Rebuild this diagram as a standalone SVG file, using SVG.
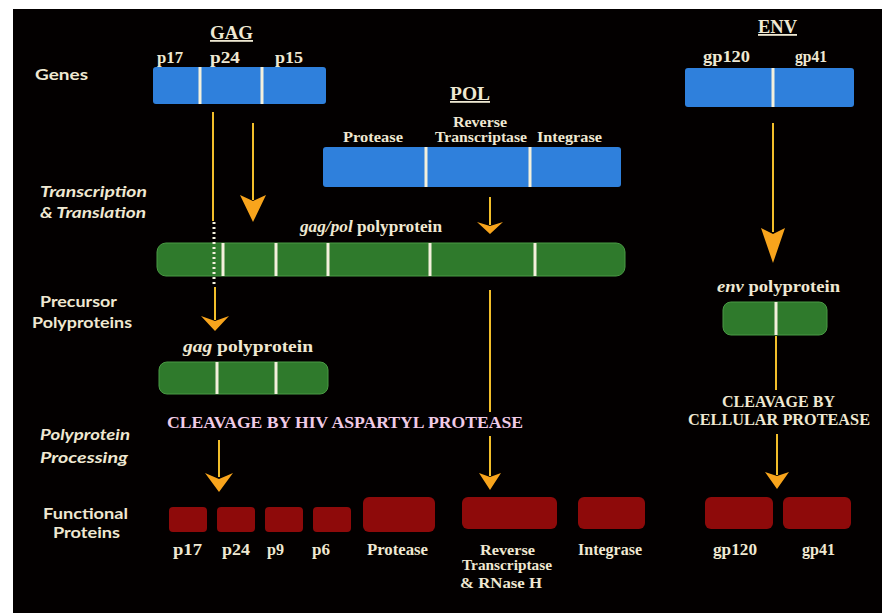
<svg xmlns="http://www.w3.org/2000/svg" width="882" height="613" viewBox="0 0 882 613">
<style>
.bg{fill:#030000}
.blue{fill:#2f80dc}
.green{fill:#2f7a2c;stroke:#4a9a44;stroke-width:1}
.red{fill:#8e0a0a}
.div{stroke:#f4f0dc;stroke-width:3}
.side{font-family:Lato,"Open Sans",sans-serif;font-weight:bold;font-size:16px;fill:#efe8d2}
.sidei{font-family:Lato,"Open Sans",sans-serif;font-weight:bold;font-style:italic;font-size:16px;fill:#efe8d2}
.lab{font-family:"Liberation Serif",serif;font-weight:bold;font-size:16px;fill:#efe8d2}
.sm{font-size:14px}
.head{font-family:"Liberation Serif",serif;font-weight:bold;font-size:18px;fill:#efe8d2;text-decoration:underline}
.pink{font-family:"Liberation Serif",serif;font-weight:bold;font-size:16px;fill:#f0cbe6}
.ln{stroke:#f2be2a;stroke-width:2;fill:none}
.ah{fill:#f8a41c}
.dots{stroke:#f4f0dc;stroke-width:3;stroke-dasharray:2 3}
</style>
<rect x="0" y="0" width="882" height="613" fill="#ffffff"/>
<rect class="bg" x="13" y="9" width="869" height="604"/>

<g id="side-labels">
<text class="side" x="35" y="80" textLength="53" lengthAdjust="spacingAndGlyphs">Genes</text>
<text class="sidei" x="40" y="197" textLength="107" lengthAdjust="spacingAndGlyphs">Transcription</text>
<text class="sidei" x="40" y="218" textLength="106" lengthAdjust="spacingAndGlyphs">&amp; Translation</text>
<text class="side" x="40" y="307" textLength="77" lengthAdjust="spacingAndGlyphs">Precursor</text>
<text class="side" x="32" y="328" textLength="100" lengthAdjust="spacingAndGlyphs">Polyproteins</text>
<text class="sidei" x="40" y="440" textLength="90" lengthAdjust="spacingAndGlyphs">Polyprotein</text>
<text class="sidei" x="40" y="463" textLength="88" lengthAdjust="spacingAndGlyphs">Processing</text>
<text class="side" x="43" y="519" textLength="85" lengthAdjust="spacingAndGlyphs">Functional</text>
<text class="side" x="53" y="538" textLength="67" lengthAdjust="spacingAndGlyphs">Proteins</text>
</g>

<g id="gag-gene">
<text class="head" x="210" y="39" textLength="43" lengthAdjust="spacingAndGlyphs">GAG</text>
<text class="lab" x="157" y="63" textLength="26" lengthAdjust="spacingAndGlyphs">p17</text>
<text class="lab" x="210" y="63" textLength="30" lengthAdjust="spacingAndGlyphs">p24</text>
<text class="lab" x="275" y="63" textLength="28" lengthAdjust="spacingAndGlyphs">p15</text>
<rect class="blue" x="153" y="67" width="173" height="37" rx="3"/>
<line class="div" x1="200" y1="67" x2="200" y2="104"/>
<line class="div" x1="262" y1="67" x2="262" y2="104"/>
</g>

<g id="pol-gene">
<text class="head" x="450" y="100" textLength="40" lengthAdjust="spacingAndGlyphs">POL</text>
<text class="lab sm" x="480" y="127" text-anchor="middle" textLength="54" lengthAdjust="spacingAndGlyphs">Reverse</text>
<text class="lab sm" x="435" y="142" textLength="92" lengthAdjust="spacingAndGlyphs">Transcriptase</text>
<text class="lab sm" x="343" y="142" textLength="60" lengthAdjust="spacingAndGlyphs">Protease</text>
<text class="lab sm" x="537" y="142" textLength="65" lengthAdjust="spacingAndGlyphs">Integrase</text>
<rect class="blue" x="323" y="147" width="298" height="40" rx="3"/>
<line class="div" x1="426" y1="147" x2="426" y2="187"/>
<line class="div" x1="530" y1="147" x2="530" y2="187"/>
</g>

<g id="env-gene">
<text class="head" x="758" y="33" textLength="39" lengthAdjust="spacingAndGlyphs">ENV</text>
<text class="lab" x="703" y="62" textLength="47" lengthAdjust="spacingAndGlyphs">gp120</text>
<text class="lab" x="795" y="62" textLength="32" lengthAdjust="spacingAndGlyphs">gp41</text>
<rect class="blue" x="685" y="68" width="169" height="39" rx="3"/>
<line class="div" x1="773" y1="68" x2="773" y2="107"/>
</g>

<g id="gagpol-polyprotein">
<text class="lab" x="300" y="232" textLength="142" lengthAdjust="spacingAndGlyphs"><tspan font-style="italic">gag/pol</tspan> polyprotein</text>
<rect class="green" x="157" y="243" width="468" height="33" rx="9"/>
<line class="div" x1="223" y1="243" x2="223" y2="276"/>
<line class="div" x1="276" y1="243" x2="276" y2="276"/>
<line class="div" x1="328" y1="243" x2="328" y2="276"/>
<line class="div" x1="430" y1="243" x2="430" y2="276"/>
<line class="div" x1="535" y1="243" x2="535" y2="276"/>
</g>

<g id="gag-polyprotein">
<text class="lab" x="183" y="352" font-size="17" textLength="130" lengthAdjust="spacingAndGlyphs"><tspan font-style="italic">gag</tspan> polyprotein</text>
<rect class="green" x="159" y="362" width="169" height="32" rx="8"/>
<line class="div" x1="217" y1="362" x2="217" y2="394"/>
<line class="div" x1="276" y1="362" x2="276" y2="394"/>
</g>

<g id="env-polyprotein">
<text class="lab" x="717" y="292" font-size="17" textLength="123" lengthAdjust="spacingAndGlyphs"><tspan font-style="italic">env</tspan> polyprotein</text>
<rect class="green" x="723" y="302" width="104" height="33" rx="8"/>
<line class="div" x1="776" y1="302" x2="776" y2="335"/>
</g>

<g id="hiv-cleavage">
<text class="pink" x="167" y="428" textLength="356" lengthAdjust="spacingAndGlyphs">CLEAVAGE BY HIV ASPARTYL PROTEASE</text>
</g>

<g id="cellular-cleavage">
<text class="lab" x="722" y="407" textLength="113" lengthAdjust="spacingAndGlyphs">CLEAVAGE BY</text>
<text class="lab" x="688" y="425" textLength="182" lengthAdjust="spacingAndGlyphs">CELLULAR PROTEASE</text>
</g>

<g id="p17"><rect class="red" x="169" y="507" width="38" height="25" rx="4"/><text class="lab" x="173" y="555" textLength="29" lengthAdjust="spacingAndGlyphs">p17</text></g>
<g id="p24"><rect class="red" x="217" y="507" width="38" height="25" rx="4"/><text class="lab" x="222" y="555" textLength="28" lengthAdjust="spacingAndGlyphs">p24</text></g>
<g id="p9"><rect class="red" x="265" y="507" width="38" height="25" rx="4"/><text class="lab" x="267" y="555" textLength="17" lengthAdjust="spacingAndGlyphs">p9</text></g>
<g id="p6"><rect class="red" x="313" y="507" width="38" height="25" rx="4"/><text class="lab" x="312" y="555" textLength="18" lengthAdjust="spacingAndGlyphs">p6</text></g>
<g id="protease"><rect class="red" x="363" y="497" width="72" height="35" rx="6"/><text class="lab" x="367" y="555" textLength="61" lengthAdjust="spacingAndGlyphs">Protease</text></g>
<g id="reverse-transcriptase"><rect class="red" x="462" y="497" width="95" height="32" rx="6"/>
<text class="lab sm" x="480" y="555" textLength="55" lengthAdjust="spacingAndGlyphs">Reverse</text>
<text class="lab sm" x="462" y="570" textLength="90" lengthAdjust="spacingAndGlyphs">Transcriptase</text>
<text class="lab sm" x="460" y="588" textLength="82" lengthAdjust="spacingAndGlyphs">&amp; RNase H</text></g>
<g id="integrase"><rect class="red" x="578" y="497" width="67" height="32" rx="6"/><text class="lab" x="578" y="555" textLength="64" lengthAdjust="spacingAndGlyphs">Integrase</text></g>
<g id="gp120"><rect class="red" x="705" y="497" width="68" height="32" rx="6"/><text class="lab" x="713" y="555" textLength="44" lengthAdjust="spacingAndGlyphs">gp120</text></g>
<g id="gp41"><rect class="red" x="783" y="497" width="68" height="32" rx="6"/><text class="lab" x="802" y="555" textLength="33" lengthAdjust="spacingAndGlyphs">gp41</text></g>

<g id="connectors">
<line class="ln" x1="213" y1="112" x2="213" y2="221"/>
<line class="dots" x1="214" y1="222" x2="214" y2="284"/>
<line class="ln" x1="253" y1="123" x2="253" y2="200"/>
<polygon class="ah" points="240,195 253,201 266,195 253,222"/>
<line class="ln" x1="490" y1="197" x2="490" y2="225"/>
<polygon class="ah" points="477,222 490,226 503,222 490,234"/>
<line class="ln" x1="773" y1="123" x2="773" y2="232"/>
<polygon class="ah" points="761,228 773,234 785,228 773,263"/>
<line class="ln" x1="215" y1="287" x2="215" y2="320"/>
<polygon class="ah" points="201,316 215,321 229,316 215,331"/>
<line class="ln" x1="490" y1="290" x2="490" y2="412"/>
<line class="ln" x1="490" y1="436" x2="490" y2="476"/>
<polygon class="ah" points="479,473 490,477 501,473 490,490"/>
<line class="ln" x1="219" y1="440" x2="219" y2="477"/>
<polygon class="ah" points="205,473 219,479 233,473 219,492"/>
<line class="ln" x1="776" y1="336" x2="776" y2="390"/>
<line class="ln" x1="777" y1="434" x2="777" y2="475"/>
<polygon class="ah" points="765,472 777,476 789,472 777,489"/>
</g>
</svg>
